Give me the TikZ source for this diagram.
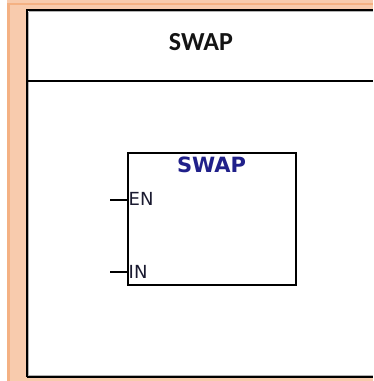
\documentclass[tikz,border=0pt]{standalone}
\usepackage{fontspec}
\setmainfont{DejaVu Sans}
\newfontfamily\hdrfont{Carlito}
\definecolor{peach}{HTML}{F8CBAD}
\definecolor{darkpeach}{HTML}{F4B183}
\definecolor{navy}{HTML}{20208A}
\definecolor{ink}{HTML}{1A1A30}
\begin{document}
\begin{tikzpicture}[x=1pt,y=-1pt,
  blackline/.style={draw=black,line width=1.8pt},
  shadowline/.style={draw=gray!60,line width=1pt},
  pinline/.style={draw=black,line width=2pt},
  pinlabel/.style={font=\fontsize{18}{18}\selectfont,text=ink,inner sep=0pt,anchor=west}]
\useasboundingbox (0,0) rectangle (373,381);
% background
\fill[white] (0,0) rectangle (373,381);
\fill[peach] (7,0) rectangle (373,381);
\fill[darkpeach] (7,2.5) rectangle (373,5);
\fill[darkpeach] (7,2.5) rectangle (9.5,381);
% main white box
\fill[white] (27,10) rectangle (373,377);
\draw[shadowline] (28.8,11.5) -- (28.8,375.5) -- (373,375.5);
\draw[shadowline] (28.8,11.5) -- (373,11.5);
\draw[blackline] (27,377) -- (27,10) -- (373,10);
\draw[blackline] (27,377) -- (373,377);
\draw[blackline] (27,81) -- (373,81);
\node[font=\hdrfont\bfseries\fontsize{26}{26}\selectfont,text=black!92] (hdr) at (201,42) {SWAP};
% function block
\node[draw=black,line width=1.8pt,minimum width=168pt,minimum height=132pt,anchor=north west,inner sep=0pt] (blk) at (127,152) {};
\node[font=\bfseries\fontsize{21}{21}\selectfont,text=navy,inner sep=0pt] (title) at (211.5,165) {SWAP};
\coordinate (en) at (127,199.5);
\coordinate (in) at (127,271.5);
\coordinate (enl) at (110,199.5);
\coordinate (inl) at (110,271.5);
\draw[pinline] (enl) -- (en);
\draw[pinline] (inl) -- (in);
\node[pinlabel] (ENlab) at (128.5,199) {EN};
\node[pinlabel] (INlab) at (128.5,271.5) {IN};
\end{tikzpicture}
\end{document}
